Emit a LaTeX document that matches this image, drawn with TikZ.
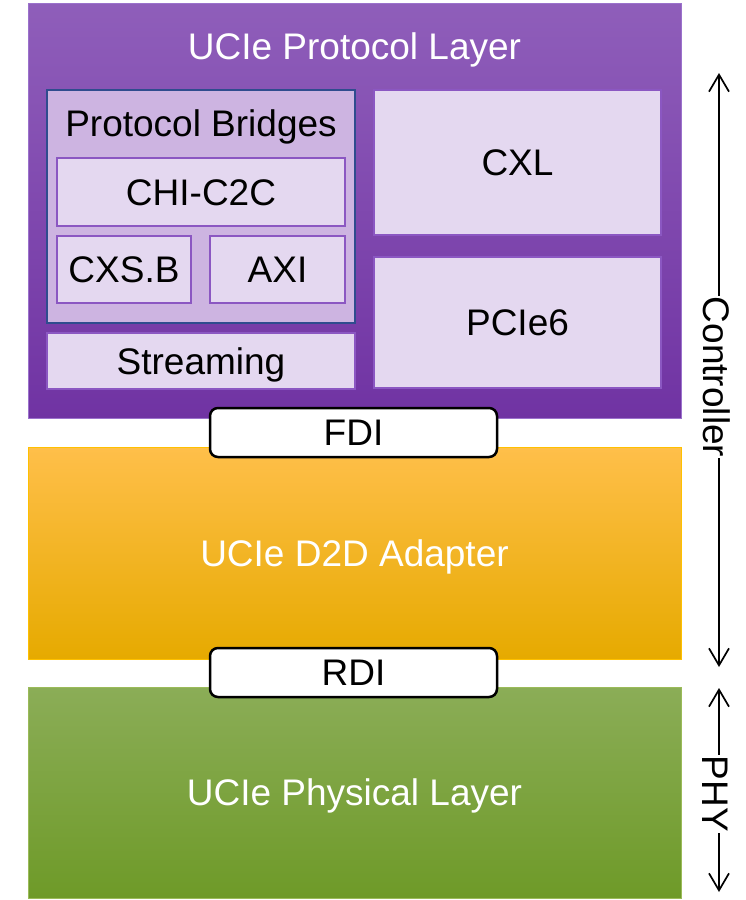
\documentclass[tikz,border=0pt]{standalone}
\usepackage{fontspec}
\setmainfont{Liberation Sans}
\usetikzlibrary{arrows.meta}

\definecolor{purpleTop}{HTML}{8F5EBA}
\definecolor{purpleBot}{HTML}{7033A3}
\definecolor{purpleEdge}{HTML}{9B72CC}
\definecolor{orangeTop}{HTML}{FFBF4A}
\definecolor{orangeMid}{HTML}{FFBB14}
\definecolor{orangeBot}{HTML}{E6AA00}
\definecolor{orangeEdge}{HTML}{FFC000}
\definecolor{greenTop}{HTML}{8BAD57}
\definecolor{greenBot}{HTML}{6E9A28}
\definecolor{greenEdge}{HTML}{9BBB59}
\definecolor{boxFill}{HTML}{E4D8F0}
\definecolor{boxEdge}{HTML}{8B57C2}
\definecolor{bridgeFill}{HTML}{CDB4E1}
\definecolor{bridgeEdge}{HTML}{2F4C8E}

\newcommand\boxfont{\fontsize{37}{40}\selectfont}

\tikzset{
  txt/.style={font=\boxfont, inner sep=0pt, outer sep=0pt,
    text height=26.5pt, text depth=0pt},
  bigbox/.style={txt, line width=1pt, text=white},
  inbox/.style={txt, draw=boxEdge, fill=boxFill, line width=1.5pt, text=black},
  bridgebox/.style={txt, draw=bridgeEdge, fill=bridgeFill, line width=2pt},
  iface/.style={txt, draw=black, fill=white, line width=2.5pt,
    rounded corners=8pt, minimum width=287pt, minimum height=49pt},
  sidelabel/.style={txt, rotate=-90, inner sep=1pt},
  spanline/.style={line width=1.7pt, -{Straight Barb[length=17pt,width=20pt]}}
}

\begin{document}
\begin{tikzpicture}[x=1pt,y=-1pt]
\useasboundingbox (0,0) rectangle (746,900);

% protocol layer
\node[bigbox, top color=purpleTop, bottom color=purpleBot, draw=purpleEdge,
  minimum width=653pt, minimum height=415pt] (proto) at (354.5,210.5) {};
\node[txt, text=white] (protoTitle) at (354.5,46) {UCIe Protocol Layer};

\node[bridgebox, minimum width=308pt, minimum height=233pt] (bridges) at (201,206.5) {};
\node[txt] (bridgesTitle) at (201,123.5) {Protocol Bridges};
\node[inbox, minimum width=288pt, minimum height=68pt] (chi) at (201,192) {CHI-C2C};
\node[inbox, minimum width=134pt, minimum height=67pt] (cxsb) at (124,269.5) {CXS.B};
\node[inbox, minimum width=135pt, minimum height=67pt] (axi) at (277.5,269.5) {AXI};
\node[inbox, minimum width=308pt, minimum height=56pt] (stream) at (201,361) {Streaming};
\node[inbox, minimum width=287pt, minimum height=145pt] (cxl) at (517.5,162.5) {CXL};
\node[inbox, minimum width=287pt, minimum height=131pt] (pcie) at (517.5,322.5) {PCIe6};

% adapter and physical layer
\node[bigbox, top color=orangeTop, middle color=orangeMid, bottom color=orangeBot,
  draw=orangeEdge, minimum width=653pt, minimum height=212pt] (d2d) at (354.5,553) {UCIe D2D Adapter};
\node[bigbox, top color=greenTop, bottom color=greenBot, draw=greenEdge,
  minimum width=653pt, minimum height=211pt] (phy) at (354.5,792.5) {UCIe Physical Layer};

% interfaces
\node[iface] (fdi) at (353.5,432.5) {FDI};
\node[iface] (rdi) at (353.5,672.5) {RDI};

% side spans
\node[sidelabel] (ctl) at (716.5,377) {Controller};
\coordinate (ctlTop) at (719,73);
\coordinate (ctlBot) at (719,667);
\draw[spanline] (ctl.west -| ctlTop) -- (ctlTop);
\draw[spanline] (ctl.east -| ctlBot) -- (ctlBot);

\node[sidelabel] (phyl) at (716,794) {PHY};
\coordinate (phyTop) at (719,688);
\coordinate (phyBot) at (719,892);
\draw[spanline] (phyl.west -| phyTop) -- (phyTop);
\draw[spanline] (phyl.east -| phyBot) -- (phyBot);
\end{tikzpicture}
\end{document}
